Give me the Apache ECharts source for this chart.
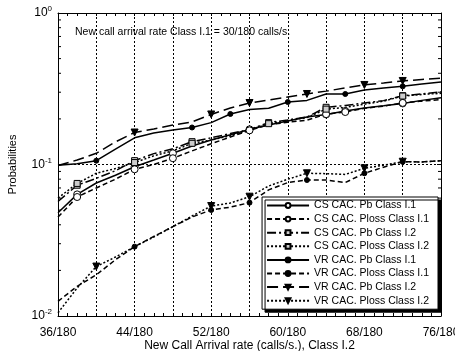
<!DOCTYPE html>
<html><head><meta charset="utf-8">
<script src="https://cdn.jsdelivr.net/npm/echarts@6/dist/echarts.min.js"></script>
<style>html,body{margin:0;padding:0;background:#fff}#c{width:455px;height:351px}</style>
</head><body><div id="c"></div>
<script>
const xs = [36,38,40,42,44,46,48,50,52,54,56,58,60,62,64,66,68,70,72,74,76];
const csPb1    = [0.048,0.0635,0.0755,0.085,0.0966,0.107,0.1186,0.1325,0.145,0.157,0.1706,0.182,0.194,0.206,0.214,0.2256,0.236,0.244,0.253,0.265,0.276];
const csPloss1 = [0.045,0.061,0.070,0.080,0.093,0.100,0.110,0.123,0.137,0.152,0.168,0.183,0.190,0.196,0.215,0.222,0.235,0.243,0.255,0.262,0.268];
const csPb2    = [0.057,0.073,0.081,0.091,0.106,0.118,0.127,0.1415,0.150,0.160,0.170,0.189,0.197,0.206,0.2385,0.245,0.255,0.264,0.2846,0.292,0.302];
const csPloss2 = [0.060,0.075,0.0875,0.094,0.103,0.114,0.123,0.138,0.145,0.155,0.169,0.186,0.195,0.204,0.232,0.238,0.250,0.262,0.283,0.290,0.295];
const vrPb1    = [0.099,0.101,0.106,0.1265,0.150,0.1614,0.169,0.1755,0.189,0.2155,0.231,0.235,0.2585,0.265,0.292,0.292,0.310,0.320,0.328,0.340,0.351];
const vrPloss1 = [0.0125,0.0157,0.0187,0.0235,0.0287,0.0335,0.0389,0.045,0.0501,0.0523,0.056,0.068,0.076,0.079,0.079,0.076,0.0875,0.096,0.1043,0.104,0.106];
const vrPb2    = [0.0985,0.107,0.1186,0.141,0.1626,0.1716,0.182,0.191,0.214,0.236,0.2547,0.2667,0.279,0.292,0.305,0.320,0.335,0.345,0.356,0.364,0.372];
const vrPloss2 = [0.0105,0.0153,0.0212,0.0245,0.0287,0.0332,0.0389,0.0457,0.0532,0.0557,0.0613,0.0721,0.080,0.0875,0.087,0.086,0.0944,0.099,0.1043,0.104,0.106];

const csPb1Marks = [38,44,48,56,64,66,72];
const csPloss1Marks = [38,44,48,56,64,66,72];
const csPb2Marks = [38,44,50,58,64,72];
const csPloss2Marks = [38,44,50,58,64,72];
const vrPb1Marks = [40,50,54,60,66,72];
const vrPloss1Marks = [44,52,56,62,68,72];
const vrPb2Marks = [44,52,56,62,68,72];
const vrPloss2Marks = [40,52,56,62,68,72];

const names = ['CS CAC. Pb Class I.1','CS CAC. Ploss Class I.1','CS CAC. Pb Class I.2','CS CAC. Ploss Class I.2',
               'VR CAC. Pb Class I.1','VR CAC. Ploss Class I.1','VR CAC. Pb Class I.2','VR CAC. Ploss Class I.2'];
const annotation = 'New call arrival rate Class I.1 = 30/180 calls/s.';
const minorTickValues = [0.02,0.03,0.04,0.05,0.06,0.07,0.08,0.09,0.2,0.3,0.4,0.5,0.6,0.7,0.8,0.9];

const FONT = 'Liberation Sans, Arial, Helvetica, sans-serif';
const specs = [
  {vals: csPb1, marks: csPb1Marks, type: 'solid', sym: 'circle', size: 7, fill: '#fff'},
  {vals: csPloss1, marks: csPloss1Marks, type: [5,3], sym: 'circle', size: 7, fill: '#fff'},
  {vals: csPb2, marks: csPb2Marks, type: [9,3,2,3], sym: 'rect', size: 6, fill: '#ccc'},
  {vals: csPloss2, marks: csPloss2Marks, type: [2,2], sym: 'rect', size: 6, fill: '#ccc'},
  {vals: vrPb1, marks: vrPb1Marks, type: 'solid', sym: 'circle', size: 5, fill: '#000'},
  {vals: vrPloss1, marks: vrPloss1Marks, type: [5,3], sym: 'circle', size: 5, fill: '#000'},
  {vals: vrPb2, marks: vrPb2Marks, type: [11,5], sym: 'triangle', size: 7, fill: '#000', rot: 180},
  {vals: vrPloss2, marks: vrPloss2Marks, type: [2,2], sym: 'triangle', size: 7, fill: '#000', rot: 180}
];

const series = specs.map((s, i) => ({
  name: names[i], type: 'line', xAxisIndex: 0, yAxisIndex: 0,
  symbol: s.sym, symbolSize: s.size, symbolRotate: s.rot || 0,
  showAllSymbol: true, animation: false,
  lineStyle: {color: '#000', width: 1.5, type: s.type},
  itemStyle: {color: s.fill, borderColor: '#000', borderWidth: 1},
  emphasis: {disabled: true},
  data: xs.map((x, j) => ({value: [x, s.vals[j]], symbol: s.marks.includes(x) ? s.sym : 'none'}))
}));

series.push({
  type: 'custom', xAxisIndex: 0, yAxisIndex: 0, silent: true, clip: false, animation: false,
  data: minorTickValues.map(v => [v]),
  renderItem: function (params, api) {
    const v = api.value(0);
    const l = api.coord([36, v]);
    const r = api.coord([76, v]);
    return {type: 'group', children: [
      {type: 'line', shape: {x1: l[0], y1: l[1], x2: l[0] + 3, y2: l[1]}, style: {stroke: '#000', lineWidth: 1}},
      {type: 'line', shape: {x1: r[0] - 3, y1: r[1], x2: r[0], y2: r[1]}, style: {stroke: '#000', lineWidth: 1}}
    ]};
  }
});

const yLabel = v => {
  const e = Math.round(Math.log10(v));
  return '{b|10}{s|' + e + '}';
};

const chart = echarts.init(document.getElementById('c'), null, {renderer: 'canvas'});
chart.setOption({
  backgroundColor: '#fff',
  animation: false,
  textStyle: {fontFamily: FONT, color: '#000'},
  title: {text: annotation, left: 75, top: 27, padding: 0,
          textStyle: {fontSize: 10.5, fontWeight: 'normal', color: '#000', fontFamily: FONT}},
  grid: {left: 58, right: 14, top: 13, bottom: 35, containLabel: false, outerBoundsMode: 'none'},
  xAxis: [{
    type: 'value', min: 36, max: 76, interval: 4, position: 'bottom',
    name: 'New Call Arrival rate (calls/s.), Class I.2', nameLocation: 'middle', nameGap: 24,
    nameMoveOverlap: false,
    nameTextStyle: {fontSize: 12, color: '#000', fontFamily: FONT},
    axisLine: {lineStyle: {color: '#000', width: 1}},
    axisTick: {inside: true, length: 3, lineStyle: {color: '#000'}},
    minorTick: {show: true, splitNumber: 4, length: 3, lineStyle: {color: '#000'}},
    axisLabel: {fontSize: 12, color: '#000', margin: 11, fontFamily: FONT,
      formatter: v => ((v - 36) % 8 === 0 ? v + '/180' : '')},
    splitLine: {show: true, lineStyle: {color: '#000', type: [2,2], width: 1}}
  }, {
    type: 'value', min: 36, max: 76, interval: 4, position: 'top',
    axisLine: {lineStyle: {color: '#000', width: 1}},
    axisTick: {inside: true, length: 3, lineStyle: {color: '#000'}},
    minorTick: {show: true, splitNumber: 4, length: 3, lineStyle: {color: '#000'}},
    axisLabel: {show: false}, splitLine: {show: false}
  }],
  yAxis: [{
    type: 'log', logBase: 10, min: 0.01, max: 1, position: 'left',
    name: 'Probabilities', nameLocation: 'middle', nameGap: 40, nameRotate: 90,
    nameTextStyle: {fontSize: 11, color: '#000', fontFamily: FONT},
    axisLine: {lineStyle: {color: '#000', width: 1}},
    axisTick: {inside: true, length: 4, lineStyle: {color: '#000'}},
    axisLabel: {formatter: yLabel, margin: 6, color: '#000',
      rich: {b: {fontSize: 12, fontFamily: FONT, color: '#000'},
             s: {fontSize: 8, fontFamily: FONT, color: '#000', verticalAlign: 'top', padding: [0,0,8,0]}}},
    splitLine: {show: true, lineStyle: {color: '#000', type: [2,2], width: 1}}
  }, {
    type: 'log', logBase: 10, min: 0.01, max: 1, position: 'right',
    axisLine: {lineStyle: {color: '#000', width: 1}},
    axisTick: {inside: true, length: 4, lineStyle: {color: '#000'}},
    axisLabel: {show: false}, splitLine: {show: false}
  }],
  legend: {
    data: names, orient: 'vertical', right: 17, top: 197,
    itemWidth: 42, itemHeight: 6, itemGap: 2.6,
    padding: [3, 9, 3, 4],
    backgroundColor: '#fff', borderColor: '#000', borderWidth: 1,
    shadowColor: '#000', shadowOffsetX: 3, shadowOffsetY: 3, shadowBlur: 0,
    textStyle: {fontSize: 10.5, color: '#000', fontFamily: FONT},
    selectedMode: false
  },
  series: series
});
</script></body></html>
